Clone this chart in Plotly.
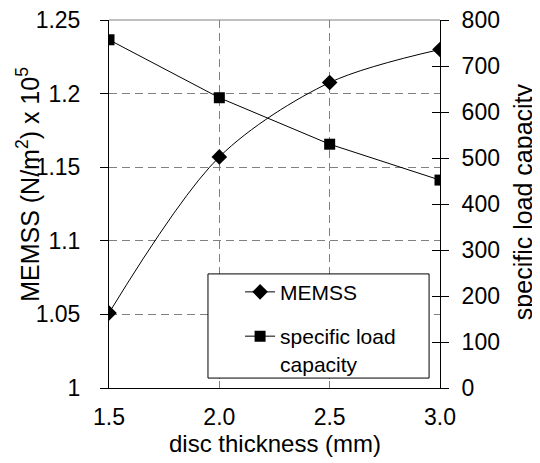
import plotly.graph_objects as go

thickness = [1.5, 2.0, 2.5, 3.0]
memss = [1.051, 1.157, 1.2075, 1.230]
load_capacity = [757, 631, 530, 452]

x_ticks = [1.5, 2.0, 2.5, 3.0]
x_labels = ["1.5", "2.0", "2.5", "3.0"]
y1_ticks = [1.0, 1.05, 1.1, 1.15, 1.2, 1.25]
y1_labels = ["1", "1.05", "1.1", "1.15", "1.2", "1.25"]
y2_ticks = [0, 100, 200, 300, 400, 500, 600, 700, 800]
y2_labels = [str(v) for v in y2_ticks]

x_title = "disc thickness (mm)"
y1_title = "MEMSS (N/m<sup>2</sup>) x 10<sup>5</sup>"
y2_title = "specific load capacity"

FONT = "Liberation Sans, Arial, sans-serif"
TICKF = dict(family=FONT, size=23, color="black")
TITLEF = dict(family=FONT, size=24, color="black")
YTITLEF = dict(family=FONT, size=25, color="black")
LEGF = dict(family=FONT, size=21, color="black")
GRID = "#808080"

fig = go.Figure()
fig.add_trace(go.Scatter(
    x=thickness, y=memss, name="MEMSS", mode="lines+markers",
    line=dict(color="black", width=1, shape="spline", smoothing=0.9),
    marker=dict(symbol="diamond", size=12, color="black"),
    legendgroup="a", yaxis="y"))
fig.add_trace(go.Scatter(
    x=thickness, y=load_capacity, name="specific load<br>capacity", mode="lines+markers",
    line=dict(color="black", width=1),
    marker=dict(symbol="square", size=11, color="black"),
    legendgroup="b", yaxis="y2"))
fig.add_trace(go.Scatter(x=[None], y=[None], yaxis="y3", showlegend=False, hoverinfo="skip"))

fig.update_layout(
    width=540, height=463,
    margin=dict(l=101, r=108, t=12, b=83, autoexpand=False),
    paper_bgcolor="white", plot_bgcolor="white",
    font=dict(family=FONT, size=21, color="black"),
    showlegend=True,
    legend=dict(x=0.396, y=0.316, xanchor="left", yanchor="top",
                borderwidth=0, bgcolor="rgba(0,0,0,0)",
                font=LEGF, tracegroupgap=14, valign="top"),
    xaxis=dict(range=[1.5, 3.0], tickvals=x_ticks, ticktext=x_labels, tickfont=TICKF,
               showline=True, linecolor="black", linewidth=1,
               ticks="inside", ticklen=7, tickcolor=GRID,
               showgrid=True, gridcolor=GRID, griddash="8px,5px", gridwidth=1,
               zeroline=False, ticklabelstandoff=8, automargin=False,
               ticklabeloverflow="allow"),
    yaxis=dict(range=[1.0, 1.25], tickvals=y1_ticks, ticktext=y1_labels, tickfont=TICKF,
               showline=True, linecolor="black", linewidth=1,
               ticks="outside", ticklen=8, tickcolor="black",
               showgrid=True, gridcolor=GRID, griddash="8px,5px", gridwidth=1,
               zeroline=False, ticklabelstandoff=15, automargin=False,
               ticklabeloverflow="allow"),
    yaxis2=dict(range=[0, 800], tickvals=y2_ticks, ticktext=y2_labels, tickfont=TICKF,
                overlaying="y", side="right",
                showline=True, linecolor="black", linewidth=1,
                ticks="outside", ticklen=8, tickcolor="black",
                showgrid=False, zeroline=False, ticklabelstandoff=8, automargin=False,
                ticklabeloverflow="allow"),
    yaxis3=dict(range=[0, 800], tickvals=y2_ticks, showticklabels=False,
                overlaying="y", side="right", anchor="x",
                ticks="inside", ticklen=8, tickcolor="black",
                showgrid=False, zeroline=False, showline=False, automargin=False),
    shapes=[
        dict(type="line", xref="paper", yref="paper", x0=0, x1=1, y0=1, y1=1,
             line=dict(color=GRID, width=1)),
        dict(type="rect", xref="paper", yref="paper", layer="above",
             x0=0.299, x1=0.967, y0=0.027, y1=0.31,
             line=dict(color="black", width=1), fillcolor="white"),
    ],
    annotations=[
        dict(text=x_title, xref="paper", yref="paper", x=0.503, y=-0.1495,
             xanchor="center", yanchor="middle", showarrow=False, font=TITLEF),
        dict(text=y1_title, xref="paper", yref="paper", x=-0.2447, y=0.552,
             xanchor="center", yanchor="middle", textangle=-90, showarrow=False, font=YTITLEF),
        dict(text=y2_title, xref="paper", yref="paper", x=1.2508, y=0.505,
             xanchor="center", yanchor="middle", textangle=-90, showarrow=False, font=YTITLEF),
    ],
)

fig.write_html("out.html")
